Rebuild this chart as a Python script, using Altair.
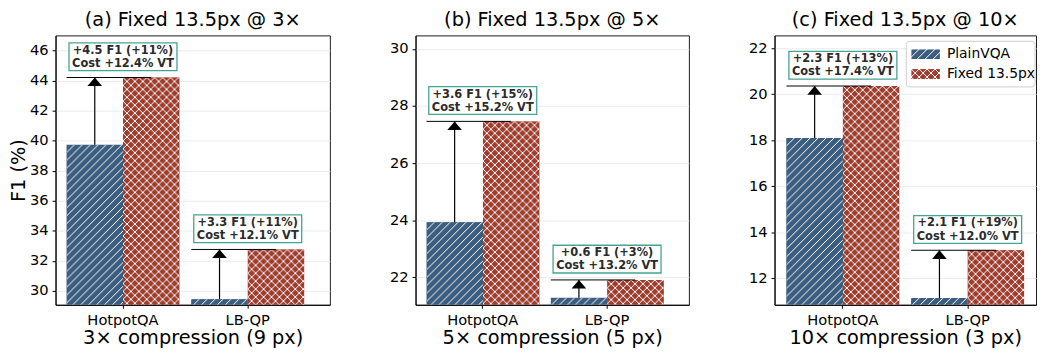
import base64
import altair as alt
import pandas as pd

# ---------------- data ----------------
datasets = ["HotpotQA", "LB-QP"]
series = ["PlainVQA", "Fixed 13.5px"]
panel_titles = ["(a) Fixed 13.5px @ 3×", "(b) Fixed 13.5px @ 5×", "(c) Fixed 13.5px @ 10×"]
x_titles = ["3× compression (9 px)", "5× compression (5 px)", "10× compression (3 px)"]
plain_f1 = [[39.73, 29.45], [23.93, 21.29], [18.10, 11.14]]
fixed_f1 = [[44.20, 32.76], [27.46, 21.91], [20.36, 13.22]]
gain_labels = [["+4.5 F1 (+11%)", "+3.3 F1 (+11%)"],
               ["+3.6 F1 (+15%)", "+0.6 F1 (+3%)"],
               ["+2.3 F1 (+13%)", "+2.1 F1 (+19%)"]]
cost_labels = [["Cost +12.4% VT", "Cost +12.1% VT"],
               ["Cost +15.2% VT", "Cost +13.2% VT"],
               ["Cost +17.4% VT", "Cost +12.0% VT"]]
y_domains = [[29.08, 47.0], [21.04, 30.47], [10.85, 22.56]]
y_ticks = [[30, 32, 34, 36, 38, 40, 42, 44, 46],
           [22, 24, 26, 28, 30],
           [12, 14, 16, 18, 20, 22]]
y_title = "F1 (%)"

# ---------------- style ----------------
FONT = "DejaVu Sans"
colors = ["#3b5e80", "#a03c2d"]
teal = "#45a393"
panel_w = [277, 276, 264]
panel_h = 272
outer_pad = [0.147, 0.147, 0.095]
band_align = [0.3, 0.3, 0.5]
LABEL_FS = 14.8
TITLE_FS = 19.5


def hatch_url(bg, cross):
    d = "M-1,9 L9,-1 M-1,1 L1,-1 M7,9 L9,7"
    if cross:
        d += " M-1,-1 L9,9 M-1,7 L1,9 M7,-1 L9,1"
    svg = ('<svg xmlns="http://www.w3.org/2000/svg" width="100%" height="100%">'
           '<defs><pattern id="h" x="0" y="0" width="8" height="8" patternUnits="userSpaceOnUse">'
           f'<rect width="8" height="8" fill="{bg}"/>'
           f'<path d="{d}" stroke="#ffffff" stroke-width="1" fill="none" shape-rendering="crispEdges"/>'
           '</pattern></defs><rect width="100%" height="100%" fill="url(#h)"/></svg>')
    return "data:image/svg+xml;base64," + base64.b64encode(svg.encode()).decode()


hatch = [hatch_url(colors[0], False), hatch_url(colors[1], True)]
HEAD = "M0,0 L-0.72,0.85 L0.72,0.85 Z"
BOX = "M-5.45,-0.7 L5.45,-0.7 L5.45,-3.5 L-5.45,-3.5 Z"


def panel(i):
    base = y_domains[i][0]
    rows = []
    for j, d in enumerate(datasets):
        rows.append({"dataset": d, "series": series[0], "value": plain_f1[i][j], "base": base})
        rows.append({"dataset": d, "series": series[1], "value": fixed_f1[i][j], "base": base})
    df = pd.DataFrame(rows)
    ann = pd.DataFrame({
        "dataset": datasets,
        "plain": plain_f1[i],
        "fixed": fixed_f1[i],
        "label": [g + "\n" + c for g, c in zip(gain_labels[i], cost_labels[i])],
    })

    xaxis = alt.Axis(title=x_titles[i], labelAngle=0, grid=False, labelFontSize=LABEL_FS,
                     titleFontSize=TITLE_FS, labelFont=FONT, titleFont=FONT)
    xscale = alt.Scale(paddingInner=0.095, paddingOuter=outer_pad[i], align=band_align[i])

    def X(bp=None):
        if bp is None:
            return alt.X("dataset:N", sort=datasets, scale=xscale, axis=xaxis)
        return alt.X("dataset:N", sort=datasets, scale=xscale, axis=xaxis, bandPosition=bp)

    yscale = alt.Scale(domain=y_domains[i], nice=False, zero=False)
    if i == 0:
        yaxis = alt.Axis(values=y_ticks[i], title=y_title, grid=True, labelFontSize=LABEL_FS)
    else:
        yaxis = alt.Axis(values=y_ticks[i], title=None, grid=True, labelFontSize=LABEL_FS)

    def Y(f):
        return alt.Y(f + ":Q", scale=yscale, axis=yaxis)

    xoff = alt.XOffset("series:N", sort=series,
                       scale=alt.Scale(domain=series, paddingInner=0, paddingOuter=0))

    bars = alt.Chart(df).mark_bar(clip=True).encode(
        x=X(), xOffset=xoff, y=Y("value"), y2=alt.Y2("base:Q"),
        color=alt.Color("series:N", sort=series,
                        scale=alt.Scale(domain=series, range=colors), legend=None),
    )
    layers = [bars]
    for s, u in zip(series, hatch):
        layers.append(
            alt.Chart(df).transform_filter(alt.datum.series == s).mark_image(aspect=False, clip=True).encode(
                x=X(), xOffset=xoff, y=Y("value"), y2=alt.Y2("base:Q"), url=alt.value(u)
            )
        )
    hline = alt.Chart(ann).mark_rule(color="black", strokeWidth=1).encode(
        x=X(0), x2=alt.X2("dataset:N", bandPosition=0.75), y=Y("fixed"))
    shaft = alt.Chart(ann).mark_rule(color="black", strokeWidth=1.2).encode(
        x=X(0.25), y=Y("plain"), y2=alt.Y2("fixed:Q"))
    head = alt.Chart(ann).mark_point(shape=HEAD, size=420, filled=True, color="black",
                                     opacity=1).encode(x=X(0.25), y=Y("fixed"))
    box = alt.Chart(ann).mark_point(shape=BOX, size=400, filled=True, fill="white",
                                    stroke=teal, strokeWidth=1.3, opacity=1).encode(
        x=X(0.5), y=Y("fixed"))
    text = alt.Chart(ann).mark_text(lineBreak="\n", font=FONT, fontSize=11.5, fontWeight="bold",
                                    color="#2b2b2b", baseline="top", align="center",
                                    dy=-33, lineHeight=13.3).encode(
        x=X(0.5), y=Y("fixed"), text="label:N")
    layers += [hline, shaft, head, box, text]

    if i == 2:
        one = pd.DataFrame({"k": [0]})
        layers.append(alt.Chart(one).mark_rect(fill="white", stroke="#cccccc", strokeWidth=1,
                                               cornerRadius=3).encode(
            x=alt.value(133), x2=alt.value(263), y=alt.value(6), y2=alt.value(52)))
        for k, (s, u) in enumerate(zip(series, hatch)):
            yc = 19 + 20 * k
            layers.append(alt.Chart(one).mark_image(aspect=False).encode(
                x=alt.value(138), x2=alt.value(167), y=alt.value(yc - 5), y2=alt.value(yc + 5),
                url=alt.value(u)))
            layers.append(alt.Chart(one).mark_text(align="left", baseline="middle", font=FONT,
                                                   fontSize=14, color="black").encode(
                x=alt.value(174), y=alt.value(yc), text=alt.value(s)))

    return alt.layer(*layers).properties(
        width=panel_w[i], height=panel_h,
        title=alt.TitleParams(panel_titles[i]),
    )


chart = alt.hconcat(panel(0), panel(1), panel(2), spacing=58.5).properties(
    padding=0
).configure_view(
    stroke="#1a1a1a", strokeWidth=1
).configure_axis(
    labelFont=FONT, titleFont=FONT, labelFontSize=LABEL_FS, titleFontSize=TITLE_FS,
    labelColor="black", titleColor="black", tickColor="black", domainColor="black",
    titleFontWeight="normal", gridColor="#ebebeb", gridWidth=1, tickSize=3.5, labelPadding=4,
).configure_axisX(
    titlePadding=2,
).configure_axisY(
    titlePadding=1,
).configure_title(
    font=FONT, fontSize=TITLE_FS, fontWeight="normal", color="black", anchor="middle",
    baseline="alphabetic", offset=5,
)

chart.save("out.html", embed_options={"renderer": "svg", "actions": False})
